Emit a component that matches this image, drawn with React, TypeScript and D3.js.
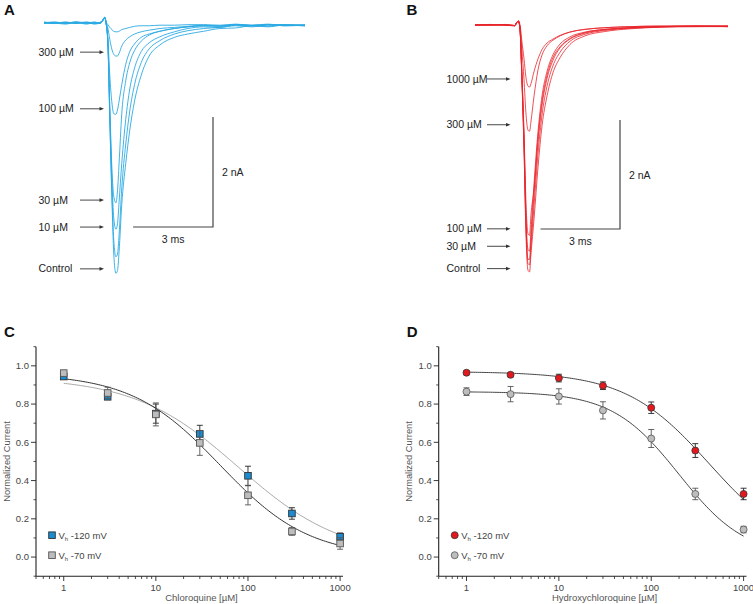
import React from 'react';
import * as d3 from 'd3';

// ---------- Panel A: chloroquine traces (time ms, current nA) ----------
const tA = [0, 0.4, 0.8, 1.2, 1.6, 1.9, 2.1, 2.2, 2.28, 2.33, 2.4, 2.47, 2.55, 2.62, 2.7, 2.76, 2.82, 2.92, 3.07, 3.22, 3.4, 3.65, 3.95, 4.35, 4.9, 5.4, 6.0, 6.6, 7.2, 7.8, 8.4, 9.0, 9.8];
const aControl = [0.01, -0.01, 0.02, -0.01, 0.01, -0.02, 0, 0.04, 0.11, 0, -0.4, -1.76, -3.2, -4.2, -4.55, -4.5, -4.15, -3.3, -2.55, -1.95, -1.42, -0.95, -0.6, -0.4, -0.26, -0.2, -0.15, -0.1, -0.09, -0.05, -0.07, -0.04, -0.05];
const a3uM = [0, 0.02, -0.01, 0.01, -0.02, 0.01, 0, 0.04, 0.1, 0, -0.38, -1.7, -3.1, -3.95, -4.25, -4.2, -3.85, -3.0, -2.2, -1.6, -1.12, -0.72, -0.47, -0.32, -0.2, -0.14, -0.1, -0.08, -0.05, -0.07, -0.03, -0.05, -0.04];
const a10uM = [-0.01, 0.01, 0, 0.02, -0.01, 0, 0.01, 0.04, 0.1, 0, -0.36, -1.6, -2.85, -3.55, -3.75, -3.65, -3.25, -2.55, -1.75, -1.2, -0.82, -0.52, -0.36, -0.25, -0.16, -0.1, -0.07, -0.08, -0.04, -0.05, -0.06, -0.03, -0.05];
const a30uM = [0.01, 0, -0.02, 0.01, 0, 0.02, -0.01, 0.04, 0.1, 0, -0.34, -1.5, -2.65, -3.15, -3.27, -3.05, -2.55, -1.65, -1.05, -0.72, -0.5, -0.33, -0.22, -0.15, -0.1, -0.07, -0.05, -0.06, -0.03, -0.05, -0.04, -0.03, -0.04];
const a100uM = [0, -0.01, 0.01, 0, 0.02, -0.01, 0, 0.04, 0.1, 0.01, -0.3, -0.95, -1.45, -1.65, -1.66, -1.58, -1.42, -1.12, -0.75, -0.52, -0.38, -0.26, -0.2, -0.15, -0.1, -0.07, -0.05, -0.06, -0.03, -0.05, -0.03, -0.04, -0.05];
const a300uM = [0.02, 0, 0.01, -0.01, 0.01, 0, -0.01, 0.05, 0.1, 0.02, -0.1, -0.3, -0.48, -0.57, -0.6, -0.6, -0.55, -0.42, -0.31, -0.25, -0.2, -0.16, -0.13, -0.1, -0.08, -0.06, -0.04, -0.05, -0.03, -0.04, -0.02, -0.04, -0.03];
const a1000uM = [0, 0.01, -0.01, 0.02, 0, -0.01, 0.01, 0.05, 0.1, 0.02, -0.03, -0.08, -0.12, -0.15, -0.16, -0.16, -0.15, -0.12, -0.1, -0.08, -0.06, -0.05, -0.05, -0.04, -0.04, -0.03, -0.03, -0.04, -0.02, -0.04, -0.03, -0.05, -0.04];
const aLabels = ['300 µM', '100 µM', '30 µM', '10 µM', 'Control'];
const aLabelLevels = [-0.53, -1.56, -3.22, -3.71, -4.47];

// ---------- Panel B: hydroxychloroquine traces ----------
const tB = [0, 0.57, 1.13, 1.5, 1.58, 1.64, 1.7, 1.77, 1.85, 1.92, 2.0, 2.06, 2.11, 2.23, 2.38, 2.53, 2.72, 2.94, 3.21, 3.58, 4.15, 4.9, 5.85, 7.0, 8.3, 9.55];
const bControl = [0, 0, 0, -0.02, 0.05, 0.07, -0.09, -1.01, -2.29, -3.76, -4.5, -4.53, -4.22, -3.55, -2.6, -1.85, -1.3, -0.88, -0.6, -0.36, -0.2, -0.12, -0.07, -0.04, -0.03, -0.03];
const b3uM = [0, 0.01, 0, -0.01, 0.05, 0.07, -0.09, -0.98, -2.22, -3.65, -4.38, -4.4, -4.08, -3.3, -2.35, -1.65, -1.12, -0.75, -0.5, -0.3, -0.17, -0.1, -0.06, -0.04, -0.02, -0.03];
const b10uM = [0, 0, 0.01, -0.01, 0.05, 0.07, -0.09, -0.95, -2.15, -3.55, -4.3, -4.3, -3.95, -3.1, -2.15, -1.48, -0.98, -0.65, -0.42, -0.26, -0.15, -0.09, -0.05, -0.03, -0.03, -0.02];
const b30uM = [0, 0, 0, -0.01, 0.05, 0.07, -0.09, -0.92, -2.08, -3.42, -4.12, -4.15, -3.8, -2.9, -1.95, -1.3, -0.85, -0.55, -0.35, -0.22, -0.13, -0.08, -0.05, -0.03, -0.02, -0.02];
const b100uM = [0, 0.01, 0, -0.01, 0.05, 0.07, -0.08, -0.86, -1.95, -3.2, -3.83, -3.86, -3.5, -3.0, -2.05, -1.4, -0.92, -0.6, -0.4, -0.25, -0.14, -0.08, -0.05, -0.03, -0.02, -0.03];
const b300uM = [0, 0, 0.01, -0.01, 0.05, 0.07, -0.05, -0.45, -1.0, -1.6, -1.93, -1.95, -1.78, -1.3, -0.82, -0.55, -0.38, -0.28, -0.2, -0.13, -0.08, -0.05, -0.03, -0.02, -0.02, -0.02];
const b1000uM = [0, 0, 0, -0.01, 0.05, 0.07, 0, -0.3, -0.62, -0.95, -1.12, -1.14, -1.08, -0.85, -0.62, -0.45, -0.33, -0.26, -0.19, -0.13, -0.08, -0.05, -0.03, -0.02, -0.02, -0.02];
const bLabels = ['1000 µM', '300 µM', '100 µM', '30 µM', 'Control'];
const bLabelLevels = [-0.99, -1.83, -3.74, -4.06, -4.47];

// ---------- Panels C / D: concentration-response ----------
const concentrations = [1, 3, 10, 30, 100, 300, 1000];
const cqMinus120 = [0.944, 0.838, 0.75, 0.644, 0.425, 0.228, 0.106];
const cqMinus120Err = [0.012, 0.012, 0.05, 0.045, 0.05, 0.03, 0.02];
const cqMinus70 = [0.962, 0.858, 0.746, 0.597, 0.323, 0.134, 0.071];
const cqMinus70Err = [0.012, 0.03, 0.06, 0.065, 0.05, 0.02, 0.03];
const hcqMinus120 = [0.964, 0.953, 0.936, 0.896, 0.781, 0.557, 0.33];
const hcqMinus120Err = [0.01, 0.01, 0.02, 0.02, 0.03, 0.036, 0.03];
const hcqMinus70 = [0.865, 0.852, 0.84, 0.767, 0.62, 0.33, 0.144];
const hcqMinus70Err = [0.02, 0.04, 0.04, 0.045, 0.047, 0.03, 0.017];
// Hill fit parameters [top, IC50, n]
const cqFit120 = [0.94, 78.7, 0.77];
const cqFit70 = [0.96, 50, 0.9];
const hcqFit120 = [0.97, 430, 0.95];
const hcqFit70 = [0.865, 200, 1.2];
const yTicks = [0, 0.2, 0.4, 0.6, 0.8, 1.0];
const xMajorTicks = [1, 10, 100, 1000];

const FONT = 'Arial, "Liberation Sans", Helvetica, sans-serif';

function Arrow({ x1, x2, y }: { x1: number; x2: number; y: number }) {
  return (
    <g>
      <line x1={x1} x2={x2 - 3} y1={y} y2={y} stroke="#333" strokeWidth={0.9} />
      <polygon points={`${x2},${y} ${x2 - 4.5},${y - 1.8} ${x2 - 4.5},${y + 1.8}`} fill="#333" />
    </g>
  );
}

function TracePanel(props: {
  t: number[]; traces: number[][]; x: d3.ScaleLinear<number, number>; y: d3.ScaleLinear<number, number>;
  color: string; labels: string[]; levels: number[]; labelX: number; arrowX1: number; arrowX2: number;
  corner: [number, number]; letter: string; letterX: number; letterY: number; width: number;
}) {
  const { t, traces, x, y, color, labels, levels, labelX, arrowX1, arrowX2, corner, letter, letterX, letterY, width } = props;
  const line = d3.line<number>().x((_, i) => x(t[i])).y((d) => y(d)).curve(d3.curveMonotoneX);
  const barW = x(3) - x(0);
  const barH = y(-2) - y(0);
  return (
    <g>
      <text x={letterX} y={letterY} fontFamily={FONT} fontWeight="bold" fontSize={15} fill="#111">{letter}</text>
      {traces.map((tr, i) => (
        <path key={i} d={line(tr) || ''} fill="none" stroke={color} strokeWidth={width} />
      ))}
      {labels.map((lab, i) => (
        <g key={lab}>
          <text x={labelX} y={y(levels[i]) + 3.6} fontFamily={FONT} fontSize={10.5} fill="#222">{lab}</text>
          <Arrow x1={arrowX1} x2={arrowX2} y={y(levels[i])} />
        </g>
      ))}
      <path d={`M${corner[0] - barW},${corner[1]}H${corner[0]}V${corner[1] - barH}`} fill="none" stroke="#444" strokeWidth={1.2} />
      <text x={corner[0] + 9} y={corner[1] - barH / 2 + 4} fontFamily={FONT} fontSize={10.5} fill="#222">2 nA</text>
      <text x={corner[0] - barW / 2} y={corner[1] + 16} textAnchor="middle" fontFamily={FONT} fontSize={10.5} fill="#222">3 ms</text>
    </g>
  );
}

function hill(p: number[], c: number) {
  return p[0] / (1 + Math.pow(c / p[1], p[2]));
}

function DosePanel(props: {
  x0: number; x1: number; letter: string; title: string;
  s120: number[]; e120: number[]; s70: number[]; e70: number[];
  f120: number[]; f70: number[]; shape: 'square' | 'circle';
  c120: string; curve120: string; curve70: string;
}) {
  const { x0, x1, letter, title, s120, e120, s70, e70, f120, f70, shape, c120, curve120, curve70 } = props;
  const x = d3.scaleLog().domain([0.5, 1075]).range([x0, x1]);
  const y = d3.scaleLinear().domain([-0.1, 1.1]).range([576.2, 346.7]);
  const minor: number[] = [];
  [0.1, 1, 10, 100].forEach((dec) => {
    for (let k = 2; k <= 9; k++) {
      const v = dec * k;
      if (v >= 0.5 && v <= 1075 && !xMajorTicks.includes(v)) minor.push(v);
    }
  });
  const yMinor = [-0.1, 0.1, 0.3, 0.5, 0.7, 0.9, 1.1];
  const fitXs = d3.range(0, 3.001, 0.02).map((e) => Math.pow(10, e));
  const fitLine = (p: number[]) =>
    d3.line<number>().x((c) => x(c)).y((c) => y(hill(p, c)))(fitXs) || '';

  const marker = (cx: number, cy: number, fill: string, stroke: string, key: string) =>
    shape === 'square' ? (
      <rect key={key} x={cx - 3.3} y={cy - 3.3} width={6.6} height={6.6} fill={fill} stroke={stroke} strokeWidth={0.9} />
    ) : (
      <circle key={key} cx={cx} cy={cy} r={3.5} fill={fill} stroke={stroke} strokeWidth={0.8} />
    );

  const errBars = (vals: number[], errs: number[], col: string, k: string) =>
    vals.map((v, i) => {
      const cx = x(concentrations[i]);
      const top = y(v + errs[i]);
      const bot = y(v - errs[i]);
      return (
        <g key={k + i} stroke={col} strokeWidth={0.9}>
          <line x1={cx} x2={cx} y1={top} y2={bot} />
          <line x1={cx - 3} x2={cx + 3} y1={top} y2={top} />
          <line x1={cx - 3} x2={cx + 3} y1={bot} y2={bot} />
        </g>
      );
    });

  const grayFill = '#bdbdbd';
  const grayStroke = '#555';
  return (
    <g fontFamily={FONT}>
      <text x={x0 - 32} y={337} fontWeight="bold" fontSize={15} fill="#111">{letter}</text>
      <line x1={x0} x2={x0} y1={346.7} y2={576.2} stroke="#222" strokeWidth={1.1} />
      <line x1={x0} x2={x1} y1={576.2} y2={576.2} stroke="#222" strokeWidth={1.1} />
      {yTicks.map((v) => (
        <g key={'yt' + v}>
          <line x1={x0 - 5} x2={x0} y1={y(v)} y2={y(v)} stroke="#222" strokeWidth={0.9} />
          <text x={x0 - 7} y={y(v) + 3.3} textAnchor="end" fontSize={9.5} fill="#444">{v.toFixed(1)}</text>
        </g>
      ))}
      {yMinor.map((v) => (
        <line key={'ym' + v} x1={x0 - 2.5} x2={x0} y1={y(v)} y2={y(v)} stroke="#222" strokeWidth={0.8} />
      ))}
      {xMajorTicks.map((v) => (
        <g key={'xt' + v}>
          <line x1={x(v)} x2={x(v)} y1={576.2} y2={581} stroke="#222" strokeWidth={0.9} />
          <text x={x(v)} y={590.5} textAnchor="middle" fontSize={9.5} fill="#444">{v}</text>
        </g>
      ))}
      {minor.map((v) => (
        <line key={'xm' + v} x1={x(v)} x2={x(v)} y1={576.2} y2={579} stroke="#222" strokeWidth={0.8} />
      ))}
      <text transform={`translate(${x0 - 26.5},461.5) rotate(-90)`} textAnchor="middle" fontSize={9.3} fill="#555">Normalized Current</text>
      <text x={(x0 + x1) / 2 + 12} y={600.5} textAnchor="middle" fontSize={9.5} fill="#555">{title}</text>
      <path d={fitLine(f120)} fill="none" stroke={curve120} strokeWidth={1} />
      <path d={fitLine(f70)} fill="none" stroke={curve70} strokeWidth={1} />
      {errBars(s120, e120, '#222', 'e120')}
      {s120.map((v, i) => marker(x(concentrations[i]), y(v), c120, '#333', 'm120' + i))}
      {errBars(s70, e70, '#555', 'e70')}
      {s70.map((v, i) => marker(x(concentrations[i]), y(v), grayFill, grayStroke, 'm70' + i))}
      {marker(x0 + 16, 535.2, c120, '#333', 'lg1')}
      {marker(x0 + 16, 555.2, grayFill, grayStroke, 'lg2')}
      <text x={x0 + 22.5} y={538.5} fontSize={9.5} fill="#444">V<tspan fontSize={6} dy={2}>h</tspan><tspan dy={-2}> -120 mV</tspan></text>
      <text x={x0 + 22.5} y={558.5} fontSize={9.5} fill="#444">V<tspan fontSize={6} dy={2}>h</tspan><tspan dy={-2}> -70 mV</tspan></text>
    </g>
  );
}

export default function App() {
  const xA = d3.scaleLinear().domain([0, 9.8]).range([44, 305]);
  const yA = d3.scaleLinear().domain([0, -2]).range([23, 133]);
  const xB = d3.scaleLinear().domain([0, 9.55]).range([475, 728]);
  const yB = d3.scaleLinear().domain([0, -2]).range([25, 134]);
  const tracesA = [a1000uM, a300uM, a100uM, a30uM, a10uM, a3uM, aControl];
  const tracesB = [b1000uM, b300uM, b100uM, b30uM, b10uM, b3uM, bControl];
  return (
    <svg width={753} height={604} viewBox="0 0 753 604" style={{ position: 'absolute', left: 0, top: 0, background: '#fff' }}>
      <rect width={753} height={604} fill="#fff" />
      <TracePanel t={tA} traces={tracesA} x={xA} y={yA} color="#2aa9e3" labels={aLabels} levels={aLabelLevels}
        labelX={38.5} arrowX1={80} arrowX2={104} corner={[213, 227]} letter="A" letterX={4} letterY={14.5} width={0.9} />
      <TracePanel t={tB} traces={tracesB} x={xB} y={yB} color="#e8242b" labels={bLabels} levels={bLabelLevels}
        labelX={446.5} arrowX1={487} arrowX2={510.5} corner={[620, 229]} letter="B" letterX={406.5} letterY={15} width={0.8} />
      <DosePanel x0={36} x1={343} letter="C" title="Chloroquine [µM]" s120={cqMinus120} e120={cqMinus120Err}
        s70={cqMinus70} e70={cqMinus70Err} f120={cqFit120} f70={cqFit70} shape="square" c120="#1b8bd2"
        curve120="#a8a8a8" curve70="#333" />
      <DosePanel x0={438.7} x1={746.5} letter="D" title="Hydroxychloroquine [µM]" s120={hcqMinus120} e120={hcqMinus120Err}
        s70={hcqMinus70} e70={hcqMinus70Err} f120={hcqFit120} f70={hcqFit70} shape="circle" c120="#e3191f"
        curve120="#444" curve70="#444" />
    </svg>
  );
}
